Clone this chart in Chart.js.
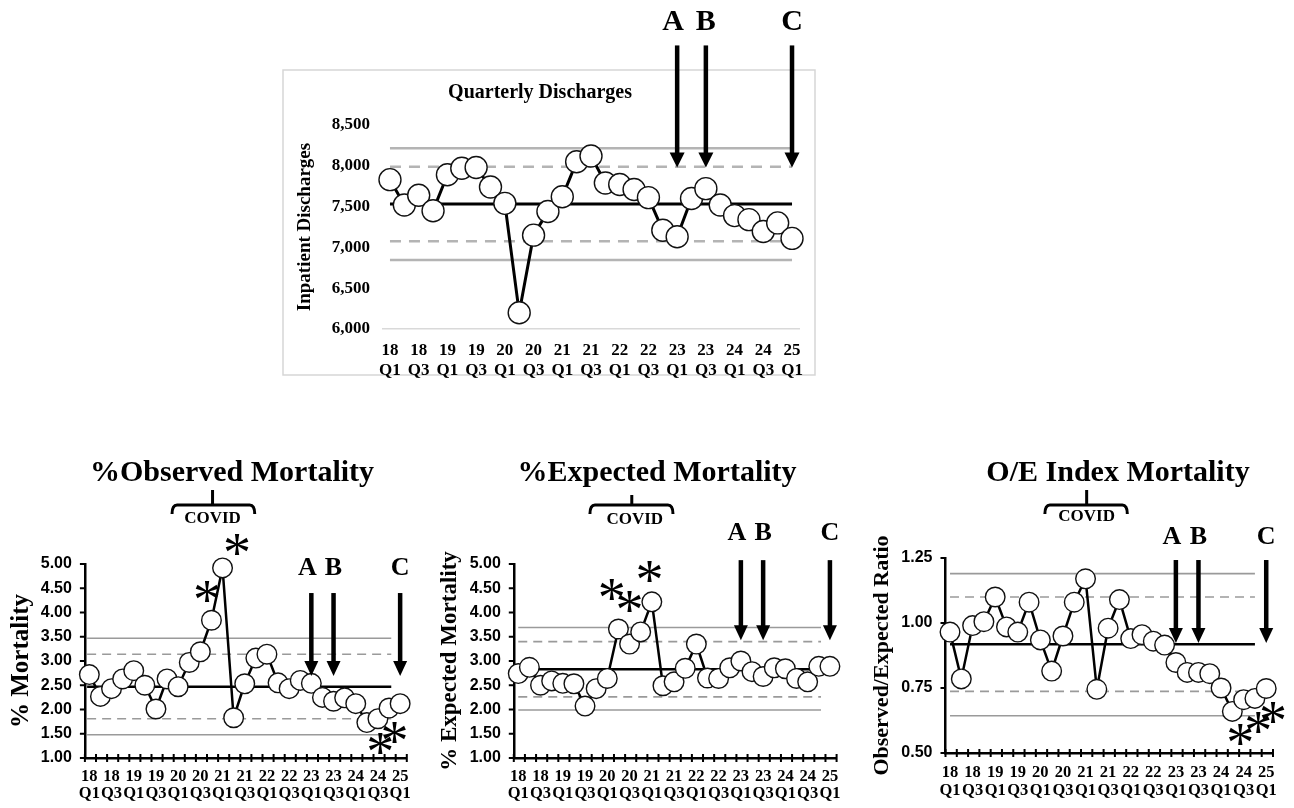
<!DOCTYPE html>
<html><head><meta charset="utf-8">
<script src="https://cdn.jsdelivr.net/npm/chart.js@4/dist/chart.umd.min.js"></script>
<style>
html,body{margin:0;padding:0;background:#fff;width:1294px;height:808px;overflow:hidden;}
canvas{position:absolute;}
</style></head><body>
<canvas id="cTop" style="left:280px;top:0px" width="560" height="385"></canvas>
<canvas id="cObs" style="left:0px;top:440px" width="430" height="368"></canvas>
<canvas id="cExp" style="left:430px;top:440px" width="430" height="368"></canvas>
<canvas id="cOE" style="left:860px;top:440px" width="434" height="368"></canvas>
<script>
// ---------- data ----------
const quarters = ['2018 Q1','2018 Q2','2018 Q3','2018 Q4','2019 Q1','2019 Q2','2019 Q3','2019 Q4','2020 Q1','2020 Q2','2020 Q3','2020 Q4','2021 Q1','2021 Q2','2021 Q3','2021 Q4','2022 Q1','2022 Q2','2022 Q3','2022 Q4','2023 Q1','2023 Q2','2023 Q3','2023 Q4','2024 Q1','2024 Q2','2024 Q3','2024 Q4','2025 Q1'];
const labelPositions = [0,2,4,6,8,10,12,14,16,18,20,22,24,26,28];
const tickYears = ['18','18','19','19','20','20','21','21','22','22','23','23','24','24','25'];
const tickQuarters = ['Q1','Q3','Q1','Q3','Q1','Q3','Q1','Q3','Q1','Q3','Q1','Q3','Q1','Q3','Q1'];

const discharges = [7830,7520,7640,7450,7890,7970,7980,7740,7540,6200,7150,7440,7620,8050,8120,7790,7770,7710,7610,7210,7130,7600,7720,7520,7390,7340,7195,7300,7110];
const observedPct = [2.72,2.27,2.43,2.63,2.80,2.50,2.01,2.63,2.47,2.97,3.19,3.84,4.92,1.83,2.53,3.06,3.14,2.55,2.43,2.60,2.54,2.25,2.17,2.24,2.12,1.73,1.81,2.03,2.12];
const expectedPct = [2.74,2.87,2.50,2.59,2.54,2.53,2.07,2.43,2.64,3.66,3.35,3.60,4.22,2.49,2.57,2.85,3.35,2.65,2.64,2.86,3.00,2.78,2.68,2.86,2.84,2.64,2.57,2.89,2.89];
const oeIndex = [0.965,0.785,0.99,1.005,1.10,0.985,0.965,1.08,0.935,0.815,0.95,1.08,1.17,0.745,0.98,1.09,0.94,0.955,0.93,0.915,0.848,0.81,0.81,0.805,0.75,0.66,0.705,0.71,0.748];

// control limits: [mean, +2 sigma, +3 sigma, -2 sigma, -3 sigma]
const dischargeLimits = [7531,7987,8215,7075,6847];
const observedLimits = [2.47,3.14,3.47,1.81,1.48];
const expectedLimits = [2.83,3.40,3.69,2.26,1.99];
const oeLimits = [0.918,1.10,1.19,0.737,0.643];

// annotations
const arrowQuarters = [20,22,28];
const arrowLetters = ['A','B','C'];
const covidLabel = 'COVID';
const observedStars = [[10.6,4.43],[13.3,5.39],[26.2,1.29],[27.5,1.52]];
const expectedStars = [[8.4,4.46],[10.0,4.22],[11.8,4.84]];
const oeStars = [[25.7,0.569],[27.3,0.614],[28.6,0.653]];

// ---------- helpers ----------
const SERIF = "'Liberation Serif', 'Times New Roman', serif";
const SANS = "'Liberation Sans', Arial, sans-serif";

function seriesDataset(values, r, lw){
  return {data: values.map((v,i)=>({x:i,y:v})), borderColor:'#000', borderWidth:lw,
    pointRadius:r, pointBackgroundColor:'#fff', pointBorderColor:'#111', pointBorderWidth:1.4,
    tension:0, clip:false, order:0};
}
function limitDatasets(lims, x0, x1, grayW, dash, meanW, gray){
  return lims.map((v,k)=>({
    data:[{x:x0,y:v},{x:x1,y:v}], pointRadius:0, clip:false, order:1+k,
    borderColor: k===0 ? '#000' : gray,
    borderWidth: k===0 ? meanW : grayW,
    borderDash: (k===1||k===3) ? dash : []
  }));
}
function drawArrow(ctx, x, tip, len, headW, headH, shaftW){
  ctx.fillStyle='#000';
  ctx.fillRect(x - shaftW/2, tip - len, shaftW, len - headH + 1);
  ctx.beginPath();
  ctx.moveTo(x - headW/2, tip - headH);
  ctx.lineTo(x + headW/2, tip - headH);
  ctx.lineTo(x, tip);
  ctx.closePath(); ctx.fill();
}
function makeDecor(cfg){
  return {
    id:'decor',
    beforeDraw(chart){
      if(cfg.box){
        const ctx=chart.ctx; ctx.save();
        ctx.strokeStyle='#d6d6d6'; ctx.lineWidth=1.5;
        ctx.strokeRect(cfg.box[0],cfg.box[1],cfg.box[2],cfg.box[3]);
        ctx.restore();
      }
    },
    afterDraw(chart){
      const ctx=chart.ctx, xs=chart.scales.x, ys=chart.scales.y, ca=chart.chartArea;
      ctx.save();
      ctx.fillStyle='#000'; ctx.strokeStyle='#000';
      // title
      ctx.font = cfg.titleFont; ctx.textAlign='center'; ctx.textBaseline='middle';
      ctx.fillText(cfg.title, cfg.titleX, cfg.titleY);
      // covid brace
      if(cfg.brace){
        const x1=xs.getPixelForValue(cfg.brace[0]), x2=xs.getPixelForValue(cfg.brace[1]), xc=xs.getPixelForValue(cfg.brace[2]);
        const y=cfg.braceY;
        ctx.lineWidth=3; ctx.lineCap='butt';
        ctx.beginPath();
        ctx.moveTo(x1, y+9); ctx.quadraticCurveTo(x1, y, x1+5, y);
        ctx.lineTo(x2-5, y); ctx.quadraticCurveTo(x2, y, x2, y+9);
        ctx.moveTo(xc, y); ctx.lineTo(xc, cfg.notchTop);
        ctx.stroke();
        ctx.font = "bold 17px " + SERIF;
        ctx.fillText(covidLabel, xc + (cfg.covidDx||0), cfg.covidY);
      }
      // axis tick marks
      if(cfg.tickMarks){
        ctx.lineWidth=2;
        ctx.beginPath();
        for(let k=0;k<=29;k++){
          const x=xs.getPixelForValue(xs.min + k);
          ctx.moveTo(x, ca.bottom-4); ctx.lineTo(x, ca.bottom+4);
        }
        ys.ticks.forEach(t=>{
          const y=ys.getPixelForValue(t.value);
          ctx.moveTo(ca.left-5, y); ctx.lineTo(ca.left, y);
        });
        ctx.stroke();
      }
      // arrows
      arrowQuarters.forEach((q,i)=>{
        const x=xs.getPixelForValue(q), tip=ys.getPixelForValue(cfg.arrowTip);
        drawArrow(ctx, x, tip, cfg.arrowLen, cfg.headW, cfg.headH, cfg.shaftW);
        ctx.font = cfg.letterFont; ctx.textAlign='center'; ctx.textBaseline='middle';
        ctx.fillText(arrowLetters[i], x + (i===0 ? -4 : 0), tip - cfg.letterOffset);
      });
      // stars
      if(cfg.stars){
        ctx.font = "56px " + SERIF; ctx.textAlign='center'; ctx.textBaseline='alphabetic';
        const m = ctx.measureText('*');
        const dy = (m.actualBoundingBoxAscent - m.actualBoundingBoxDescent)/2;
        cfg.stars.forEach(s=>{
          ctx.fillText('*', xs.getPixelForValue(s[0]), ys.getPixelForValue(s[1]) + dy);
        });
      }
      ctx.restore();
    }
  };
}
function xTickCallback(v){
  const k = labelPositions.indexOf(Math.round(v));
  return k<0 ? '' : [tickYears[k], tickQuarters[k]];
}

// ---------- top chart ----------
new Chart(document.getElementById('cTop'), {
  type:'line',
  data:{datasets:[seriesDataset(discharges, 11, 3)].concat(limitDatasets(dischargeLimits, 0, 28, 2.5, [11,8], 3, '#b4b4b4'))},
  options:{
    responsive:false, animation:false, devicePixelRatio:1, events:[],
    layout:{padding:{left:0,right:40.8,top:125,bottom:0}},
    plugins:{legend:{display:false}, tooltip:{enabled:false}},
    scales:{
      x:{type:'linear', min:-0.5, max:28.5,
        afterFit:s=>{s.height=56;},
        afterBuildTicks:s=>{s.ticks=labelPositions.map(v=>({value:v}));},
        grid:{display:false, drawTicks:false},
        border:{display:true, color:'#d9d9d9', width:1.5},
        ticks:{autoSkip:false, maxRotation:0, padding:12, color:'#000',
          font:{family:SERIF, weight:'bold', size:17, lineHeight:1.18}, callback:xTickCallback}},
      y:{min:6000, max:8500,
        afterFit:s=>{s.width=102.8;},
        grid:{display:false, drawTicks:false},
        border:{display:false},
        ticks:{stepSize:500, padding:12.8, color:'#000', font:{family:SERIF, weight:'bold', size:17},
          callback:v=>v.toLocaleString('en-US')},
        title:{display:true, text:'Inpatient Discharges', color:'#000',
          font:{family:SERIF, weight:'bold', size:19, lineHeight:1.2}, padding:{top:13.6,bottom:0}}}
    }
  },
  plugins:[makeDecor({box:[3,70,532,305], title:'Quarterly Discharges', titleFont:'bold 20px '+SERIF, titleX:260, titleY:93,
    arrowTip:7980, arrowLen:122, headW:15, headH:15, shaftW:4.5, letterOffset:145, letterFont:'bold 30px '+SERIF})]
});

// ---------- bottom charts ----------
function bottomChart(id, values, limits, lineEnd, lineStart, cfg){
  return new Chart(document.getElementById(id), {
    type:'line',
    data:{datasets:[seriesDataset(values, 9.8, 2.5)].concat(limitDatasets(limits, lineStart, lineEnd, 1.6, [9,6], 2.5, '#9a9a9a'))},
    options:{
      responsive:false, animation:false, devicePixelRatio:1, events:[],
      layout:{padding:{left:0,right:cfg.padRight,top:cfg.padTop,bottom:0}},
      plugins:{legend:{display:false}, tooltip:{enabled:false}},
      scales:{
        x:{type:'linear', min:-0.4, max:28.6,
          afterFit:s=>{s.height=cfg.xH;},
          afterBuildTicks:s=>{s.ticks=labelPositions.map(v=>({value:v}));},
          grid:{display:false, drawTicks:false},
          border:{display:true, color:'#000', width:2.5},
          ticks:{autoSkip:false, maxRotation:0, padding:cfg.xPad, color:'#000',
            font:{family:SERIF, weight:'bold', size:16.5, lineHeight:1.08}, callback:xTickCallback}},
        y:{min:cfg.yMin, max:cfg.yMax,
          afterFit:s=>{s.width=cfg.yW;},
          grid:{display:false, drawTicks:false},
          border:{display:true, color:'#000', width:2.5},
          ticks:{stepSize:cfg.yStep, padding:cfg.yPad, color:'#000', font:{family:SANS, weight:'bold', size:16},
            callback:v=>v.toFixed(2)},
          title:{display:true, text:cfg.yTitle, color:'#000',
            font:{family:SERIF, weight:'bold', size:cfg.yTitleSize, lineHeight:1.2}, padding:{top:cfg.yTitlePad,bottom:0}}}
      }
    },
    plugins:[makeDecor(Object.assign({titleFont:'bold 30px '+SERIF, titleY:33, braceY:65, tickMarks:true,
      headW:14, headH:15, shaftW:4.5, letterFont:'bold 26px '+SERIF}, cfg))]
  });
}

bottomChart('cObs', observedPct, observedLimits, 27.2, -0.2, {
  padRight:23.2, padTop:124, xH:50, xPad:9.5, yMin:1, yMax:5, yStep:0.5, yW:84.9, yPad:13,
  yTitle:'% Mortality', yTitleSize:25, yTitlePad:7,
  title:'%Observed Mortality', titleX:232,
  brace:[7.45,14.9,11.1], notchTop:50, covidY:79,
  arrowTip:2.69, arrowLen:83, letterOffset:108, stars:observedStars});

bottomChart('cExp', expectedPct, expectedLimits, 27.2, 0, {
  padRight:23.4, padTop:124, xH:50, xPad:9.5, yMin:1, yMax:5, yStep:0.5, yW:83.8, yPad:13,
  yTitle:'% Expected Mortality', yTitleSize:23, yTitlePad:6.7,
  title:'%Expected Mortality', titleX:227,
  brace:[6.44,13.9,10.2], notchTop:55, covidY:80, covidDx:3,
  arrowTip:3.43, arrowLen:80, letterOffset:107, stars:expectedStars});

bottomChart('cOE', oeIndex, oeLimits, 27.0, 0, {
  padRight:21, padTop:118, xH:55, xPad:11, yMin:0.5, yMax:1.25, yStep:0.25, yW:85.5, yPad:13,
  yTitle:'Observed/Expected Ratio', yTitleSize:22, yTitlePad:8.8,
  title:'O/E Index Mortality', titleX:258,
  brace:[8.4,15.7,12.1], notchTop:50, covidY:77,
  arrowTip:0.923, arrowLen:83, letterOffset:106, stars:oeStars});
</script>
</body></html>
